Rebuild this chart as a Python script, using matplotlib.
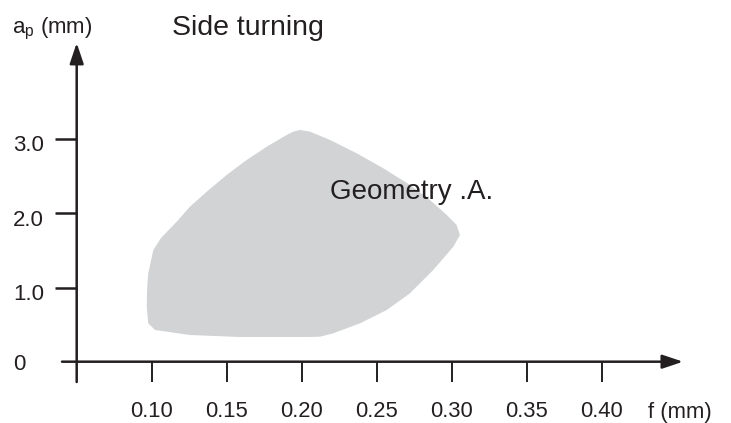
import matplotlib
matplotlib.use("Agg")
import matplotlib.pyplot as plt
import matplotlib.transforms as mtransforms

plt.rcParams["font.family"] = ["Liberation Sans", "DejaVu Sans"]
plt.rcParams["mathtext.fontset"] = "custom"
plt.rcParams["mathtext.rm"] = "Liberation Sans"

# ======================================================
# DATA
# ======================================================
# outline of the "Geometry .A." working area, f (mm) vs a_p (mm)
region_f = [0.1989, 0.2055, 0.2189, 0.2367, 0.2544, 0.2722, 0.2855, 0.2967,
            0.3033, 0.3055, 0.3011, 0.2877, 0.2722, 0.2567, 0.2389, 0.2211,
            0.2122, 0.2033, 0.1589, 0.1255, 0.1022, 0.0977, 0.0967, 0.0969,
            0.0977, 0.1011, 0.1062, 0.1167, 0.1255, 0.1367, 0.1500, 0.1633,
            0.1767, 0.1900, 0.1944]
region_ap = [3.126, 3.103, 2.991, 2.811, 2.609, 2.384, 2.181, 1.979,
             1.844, 1.709, 1.551, 1.237, 0.923, 0.697, 0.518, 0.383,
             0.337, 0.333, 0.333, 0.360, 0.428, 0.518, 0.742, 0.967,
             1.192, 1.507, 1.668, 1.889, 2.091, 2.293, 2.519, 2.721,
             2.900, 3.058, 3.103]

f_ticks = [0.10, 0.15, 0.20, 0.25, 0.30, 0.35, 0.40]
f_labels = ["0.10", "0.15", "0.20", "0.25", "0.30", "0.35", "0.40"]
ap_ticks = [0, 1, 2, 3]
ap_labels = ["0", "1.0", "2.0", "3.0"]

INK = "#231f20"
FILL = "#d1d3d4"

# ======================================================
# FIGURE
# ======================================================
fig = plt.figure(figsize=(7.31, 4.23), dpi=100)
ax = fig.add_axes([0, 0, 1, 1])
ax.set_xlim(-0.00113, 0.4862)
ax.set_ylim(-0.827, 4.879)

# Shaded region
ax.fill(region_f, region_ap, color=FILL, lw=0, zorder=1)

# Axes lines with arrow heads
arrow = dict(arrowstyle="-|>,head_length=1.25,head_width=0.42",
             mutation_scale=10, color=INK, lw=1.8, shrinkA=0, shrinkB=0)
ax.annotate("", xy=(0.4542, 0), xytext=(0.0402, 0), arrowprops=arrow, zorder=3)
ax.annotate("", xy=(0.05, 4.30), xytext=(0.05, -0.274), arrowprops=arrow, zorder=3)

# Put the (hidden) spines on the drawn axes so ticks sit there
ax.spines["left"].set_position(("data", 0.05))
ax.spines["bottom"].set_position(("data", 0))
for s in ax.spines.values():
    s.set_visible(False)

# Ticks
ax.xaxis.set_ticks_position("bottom")
ax.yaxis.set_ticks_position("left")
ax.set_xticks(f_ticks)
ax.set_xticklabels(f_labels)
ax.set_yticks(ap_ticks)
ax.set_yticklabels(ap_labels, ha="left")
ax.tick_params(axis="x", direction="out", length=14.4, width=1.4,
               pad=14, labelsize=15.8, colors=INK)
ax.tick_params(axis="y", direction="out", length=16, width=1.8,
               pad=30, labelsize=16, colors=INK)
ax.yaxis.get_major_ticks()[0].tick1line.set_visible(False)

# y labels (except 0) sit a little below their ticks in the original
shift = mtransforms.ScaledTranslation(0, -3 / 72, fig.dpi_scale_trans)
for lbl in ax.get_yticklabels()[1:]:
    lbl.set_transform(lbl.get_transform() + shift)

# Labels and title
fig.text(648 / 731, 1 - 412 / 423, "f (mm)", fontsize=15.8, color=INK,
         ha="left", va="center")
fig.text(12 / 731, 1 - 33 / 423, r"a$_\mathregular{p}$ (mm)", fontsize=16,
         color=INK, ha="left", va="baseline")
fig.text(172 / 731, 1 - 35 / 423, "Side turning", fontsize=20.5, color=INK,
         ha="left", va="baseline")
ax.text(0.2189, 2.29, "Geometry .A.", fontsize=20, color=INK,
        ha="left", va="center", zorder=4)

fig.savefig("out.png", dpi=100)
